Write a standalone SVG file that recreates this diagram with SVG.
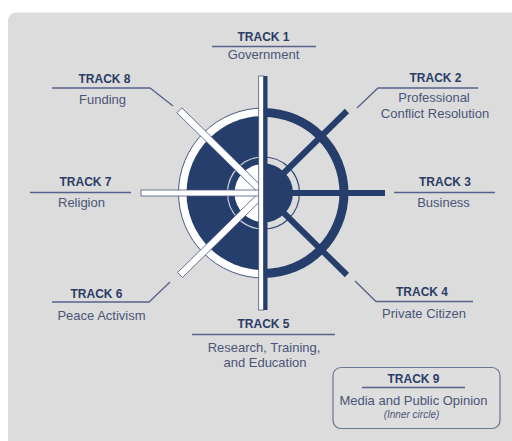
<svg xmlns="http://www.w3.org/2000/svg" width="512" height="441" viewBox="0 0 512 441">
<style>
.t{font-family:"Liberation Sans",Arial,sans-serif;font-weight:bold;font-size:12px;fill:#2b3d66;text-anchor:middle}
.s{font-family:"Liberation Sans",Arial,sans-serif;font-size:13px;fill:#4a5578;text-anchor:middle}
.i{font-family:"Liberation Sans",Arial,sans-serif;font-size:10px;font-style:italic;fill:#4a5578;text-anchor:middle}
.ld{fill:none;stroke:#56628a;stroke-width:1.3}
.nv{fill:#263e6b}
.wb{fill:#ffffff;stroke:#4b5a82;stroke-width:0.8}
</style>
<rect x="0" y="0" width="512" height="441" fill="#ffffff"/>
<rect x="8" y="12.5" width="520" height="440" rx="8" fill="#dcdcdc"/>
<g id="wheel">
  <path d="M263.5,108 A85,85 0 0 0 263.5,278 Z" fill="#ffffff" stroke="#4b5a82" stroke-width="1"/>
  <path class="nv" d="M263.5,116 A77,77 0 0 0 263.5,270 Z"/>
  <path class="nv" d="M263.5,108 A85,85 0 0 1 263.5,278 L263.5,269 A76,76 0 0 0 263.5,117 Z"/>
  <path d="M263.5,157 A36,36 0 0 0 263.5,229" fill="none" stroke="#c9ced9" stroke-width="1.2"/>
  <path d="M263.5,157 A36,36 0 0 1 263.5,229" fill="none" stroke="#3a4f7a" stroke-width="1.2"/>
  <path d="M263.5,164 A29,29 0 0 0 263.5,222 Z" fill="#ffffff"/>
  <path class="nv" d="M263.5,163.5 A29.5,29.5 0 0 1 263.5,222.5 Z"/>
  <rect class="wb" x="0" y="-3.5" width="118" height="7" transform="translate(263.5,193) rotate(-135.5)"/>
  <rect class="wb" x="0" y="-3.5" width="117" height="7" transform="translate(263.5,193) rotate(135.5)"/>
  <rect class="nv" x="0" y="-3" width="117" height="6" transform="translate(263.5,193) rotate(-44.5)"/>
  <rect class="nv" x="0" y="-3" width="117" height="6" transform="translate(263.5,193) rotate(44.5)"/>
  <rect class="wb" x="141" y="190" width="120" height="6"/>
  <rect class="nv" x="264" y="190" width="121" height="6"/>
  <rect class="wb" x="258.7" y="76" width="5" height="234"/>
  <rect class="nv" x="263.5" y="76" width="4" height="234"/>
</g>
<g id="connectors">
  <path class="ld" d="M212,46.5 H316"/>
  <path class="ld" d="M52,88 H150 L173,106"/>
  <path class="ld" d="M357,108 L378,88 H478"/>
  <path class="ld" d="M30,192.5 H131"/>
  <path class="ld" d="M394,192.5 H495"/>
  <path class="ld" d="M52,302 H149 L170,282"/>
  <path class="ld" d="M355,281 L376,301.5 H473"/>
  <path class="ld" d="M192,334.5 H335"/>
</g>
<g id="track1"><text class="t" x="263.5" y="41">TRACK 1</text><text class="s" x="263.5" y="59">Government</text></g>
<g id="track2"><text class="t" x="435.5" y="81.5">TRACK 2</text><text class="s" x="434" y="101.5">Professional</text><text class="s" x="435" y="117.5">Conflict Resolution</text></g>
<g id="track3"><text class="t" x="445" y="186">TRACK 3</text><text class="s" x="443.5" y="207">Business</text></g>
<g id="track4"><text class="t" x="422" y="296">TRACK 4</text><text class="s" x="424" y="317.5">Private Citizen</text></g>
<g id="track5"><text class="t" x="263.5" y="327.5">TRACK 5</text><text class="s" x="264" y="351.5">Research, Training,</text><text class="s" x="265" y="366.5">and Education</text></g>
<g id="track6"><text class="t" x="96.5" y="298">TRACK 6</text><text class="s" x="101.5" y="320">Peace Activism</text></g>
<g id="track7"><text class="t" x="85.5" y="186">TRACK 7</text><text class="s" x="81.5" y="207">Religion</text></g>
<g id="track8"><text class="t" x="104.5" y="83">TRACK 8</text><text class="s" x="102.5" y="104">Funding</text></g>
<g id="track9">
  <rect x="333" y="367.5" width="167" height="61" rx="8" fill="#dedede" stroke="#6b7594" stroke-width="1.2"/>
  <path class="ld" d="M362,387.5 H465"/>
  <text class="t" x="413.5" y="382.5">TRACK 9</text>
  <text class="s" x="413.5" y="405">Media and Public Opinion</text>
  <text class="i" x="411.5" y="417.5">(Inner circle)</text>
</g>
</svg>
